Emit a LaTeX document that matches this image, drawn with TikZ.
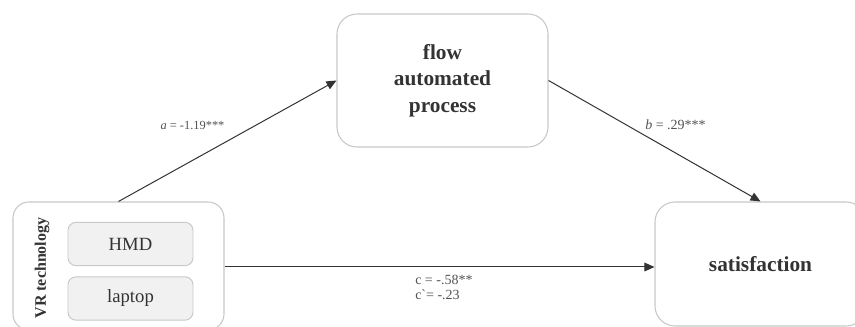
\documentclass[tikz,border=0pt]{standalone}
\usepackage{fontspec}
\setmainfont{Liberation Serif}
\usetikzlibrary{arrows.meta}
\definecolor{ink}{HTML}{333333}
\definecolor{edge}{HTML}{C8C8C8}
\definecolor{inner}{HTML}{F1F1F1}
\begin{document}
\begin{tikzpicture}[x=0.75pt,y=-0.75pt,
  box/.style={draw=edge,line width=0.8pt,fill=white,rounded corners=15pt,
    inner sep=0pt,align=center,text=ink,font=\fontsize{16}{20}\selectfont\bfseries},
  subbox/.style={draw=edge,line width=0.7pt,fill=inner,rounded corners=6pt,
    inner sep=0pt,minimum width=93.75pt,minimum height=32.5pt,text=ink,
    font=\fontsize{14}{16}\selectfont},
  link/.style={draw=ink,line width=0.75pt,-{Triangle[length=7.5pt,width=6.5pt]}},
  coef/.style={text=ink!85,inner sep=0pt}]
\useasboundingbox (0,0) rectangle (855,327);
\clip (0,0) rectangle (855,327);
% mediator, predictor and outcome
\node[box,minimum width=158.25pt,minimum height=99.75pt] (flow) at (442.5,80.5)
  {flow\\automated\\process};
\node[box,rounded corners=12pt,minimum width=158.25pt,minimum height=96pt] (vr) at (118.5,266) {};
\node[box,minimum width=158.25pt,minimum height=93pt] (sat) at (760.5,264) {satisfaction};
% the two levels of the predictor
\node[subbox] (hmd) at (130.5,244) {HMD};
\node[subbox] (lap) at (130.5,298.5) {laptop};
\node[rotate=90,text=ink,font=\fontsize{12}{14}\selectfont\bfseries] (vrlab) at (42,268) {VR technology};
% paths
\draw[link] (vr.north) -- (flow.west);
\draw[link] (flow.east) -- (sat.north);
\coordinate (cstart) at (vr.east |- 0,267);
\coordinate (cend) at (sat.west |- 0,267);
\draw[link] (cstart) -- (cend);
% path coefficients
\node[coef,font=\fontsize{9.3}{11}\selectfont] (la) at (192.5,125) {\textit{a} = -1.19***};
\node[coef,font=\fontsize{10.5}{12}\selectfont] (lb) at (675.5,125) {\textit{b} = .29***};
\node[coef,anchor=west,font=\fontsize{10.5}{12}\selectfont] (lc) at (415,280) {c = -.58**};
\node[coef,anchor=west,font=\fontsize{10.5}{12}\selectfont] (lc2) at (415,295) {c\textasciigrave= -.23};
\end{tikzpicture}
\end{document}
